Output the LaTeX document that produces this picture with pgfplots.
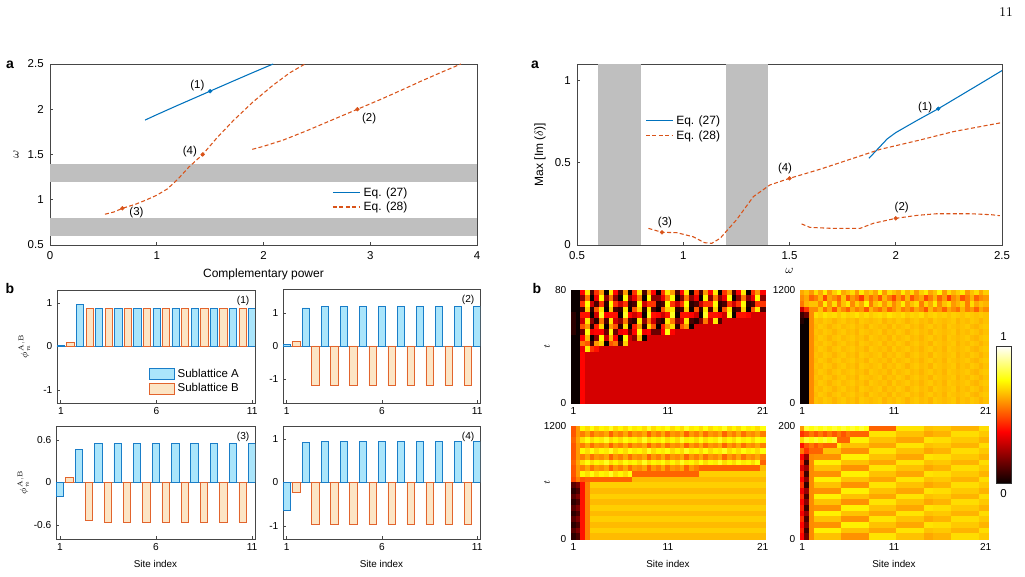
\documentclass[border=0pt]{standalone}
\usepackage{fontspec}
\setsansfont{Liberation Sans}
\renewcommand{\familydefault}{\sfdefault}
\usepackage{pgfplots}
\usepackage{pgfplotstable}
\pgfplotsset{compat=1.18}

\definecolor{mblue}{RGB}{0,114,189}
\definecolor{morange}{RGB}{217,83,25}
\definecolor{band}{RGB}{191,191,191}
\definecolor{fillA}{RGB}{170,229,251}
\definecolor{edgeA}{RGB}{25,125,200}
\definecolor{fillB}{RGB}{252,229,197}
\definecolor{edgeB}{RGB}{226,100,45}
\definecolor{axgray}{RGB}{70,70,70}

\newcommand\fa{\fontsize{8.6}{10}\selectfont}
\newcommand\fb{\fontsize{9}{11}\selectfont}
\newcommand\fc{\fontsize{7.6}{9}\selectfont}
\newcommand\fd{\fontsize{7.4}{9}\selectfont}

\pgfplotsset{
  colormap={mhot}{rgb255(0cm)=(10,0,0); rgb255(3cm)=(255,0,0); rgb255(6cm)=(255,255,0); rgb255(8cm)=(255,255,255)},
  base/.style={scale only axis, anchor=south west,
    axis line style={axgray, line width=0.5pt},
    tick style={axgray, line width=0.5pt},
    major tick length=2.5pt, tick align=inside, tick pos=left,
    /pgf/number format/assume math mode=true,
    /pgf/number format/1000 sep={}},
  toppanel/.style={base, height=135.75pt,
    ticklabel style={font=\fa}, label style={font=\fb},
    xticklabel style={yshift=-1.2pt}, yticklabel style={xshift=-1.2pt}},
  bars/.style={base, width=148.5pt, height=84.75pt, xmin=0.8, xmax=11.15, xtick={1,6,11},
    ticklabel style={font=\fc}, label style={font=\fd},
    ylabel style={at={(axis description cs:-0.165,0.5)}, anchor=center}},
  heat/.style={base, height=84.75pt, xmin=0.75, xmax=21.25, xtick={1,11,21},
    enlargelimits=false, point meta min=0, point meta max=100, colormap name=mhot,
    axis on top, axis line style={gray!70}, tick style={gray!70},
    ticklabel style={font=\fc}, label style={font=\fd},
    ylabel style={at={(axis description cs:-0.124,0.5)}, anchor=center}},
  hmcell/.style={scatter, only marks, mark=square*, point meta=explicit,
    scatter/use mapped color={draw=mapped color, fill=mapped color},
    mark size=2.12pt, mark options={xscale=#1, line width=0.25pt}},
  dot/.style={scatter=false, only marks, mark=*, mark size=1.4pt, draw=#1, fill=#1,
    mark options={draw=#1, fill=#1, solid}, forget plot},
  barA/.style={ybar, bar width=0.38, bar shift=0pt, fill=fillA, draw=edgeA, line width=0.5pt},
  barB/.style={ybar, bar width=0.38, bar shift=0pt, fill=fillB, draw=edgeB, line width=0.5pt},
  solidblue/.style={draw=mblue, line width=0.8pt},
  dsh/.style={draw=morange, line width=0.8pt, dash pattern=on 3pt off 1.8pt},
  keyline/.style={forget plot, no marks},
}

% intensity maps: t, then sites 1, 1.5, ..., 21
\pgfplotstableread{
t c1 c2 c3 c4 c5 c6 c7 c8 c9 c10 c11 c12 c13 c14 c15 c16 c17 c18 c19 c20 c21 c22 c23 c24 c25 c26 c27 c28 c29 c30 c31 c32 c33 c34 c35 c36 c37 c38 c39 c40 c41
78 0 0 38 72 10 45 60 0 72 38 10 60 0 45 72 10 60 38 0 45 72 60 10 38 72 0 45 10 60 38 72 0 45 60 10 38 72 0 45 60 38
74 0 0 20 55 0 35 75 20 55 20 0 75 20 35 55 0 75 20 20 35 55 75 0 20 55 20 35 0 75 20 55 20 35 75 0 20 55 20 35 75 20
70 0 0 45 75 30 10 45 5 75 45 30 45 5 10 75 30 45 45 5 10 75 45 30 45 75 5 10 30 45 45 75 5 10 45 30 45 75 5 10 45 45
66 0 0 10 68 5 50 72 0 68 10 5 72 0 50 68 5 72 10 0 50 68 72 5 10 68 0 50 5 72 10 68 0 50 72 5 10 68 0 50 72 10
62 5 0 40 40 0 30 78 38 40 40 0 78 38 30 40 0 78 40 38 30 40 78 0 40 40 38 30 0 78 40 40 38 30 78 0 40 40 38 31 31 31
58 5 0 30 72 20 5 55 10 72 30 20 55 10 5 72 20 55 30 10 5 72 55 20 30 72 10 5 20 55 30 72 10 31 31 31 31 31 31 31 31 31
54 5 0 50 60 5 42 70 0 60 50 5 70 0 42 60 5 70 50 0 42 60 70 5 50 60 0 31 31 31 31 31 31 31 31 31 31 31 31 31 31 31
50 5 0 15 76 35 38 38 15 76 15 35 38 15 38 76 35 38 15 15 38 76 38 31 31 31 31 31 31 31 31 31 31 31 31 31 31 31 31 31 31 31
46 0 0 38 65 0 20 75 30 65 38 0 75 30 20 65 0 31 31 31 31 31 31 31 31 31 31 31 31 31 31 31 31 31 31 31 31 31 31 31 31 31
42 0 0 55 50 10 60 68 0 50 55 10 68 31 31 31 31 31 31 31 31 31 31 31 31 31 31 31 31 31 31 31 31 31 31 31 31 31 31 31 31 31
38 0 0 35 72 45 40 31 31 31 31 31 31 31 31 31 31 31 31 31 31 31 31 31 31 31 31 31 31 31 31 31 31 31 31 31 31 31 31 31 31 31
34 0 0 38 31 31 31 31 31 31 31 31 31 31 31 31 31 31 31 31 31 31 31 31 31 31 31 31 31 31 31 31 31 31 31 31 31 31 31 31 31 31
30 0 0 38 31 31 31 31 31 31 31 31 31 31 31 31 31 31 31 31 31 31 31 31 31 31 31 31 31 31 31 31 31 31 31 31 31 31 31 31 31 31
26 0 0 38 31 31 31 31 31 31 31 31 31 31 31 31 31 31 31 31 31 31 31 31 31 31 31 31 31 31 31 31 31 31 31 31 31 31 31 31 31 31
22 0 0 38 31 31 31 31 31 31 31 31 31 31 31 31 31 31 31 31 31 31 31 31 31 31 31 31 31 31 31 31 31 31 31 31 31 31 31 31 31 31
18 0 0 38 31 31 31 31 31 31 31 31 31 31 31 31 31 31 31 31 31 31 31 31 31 31 31 31 31 31 31 31 31 31 31 31 31 31 31 31 31 31
14 0 0 38 31 31 31 31 31 31 31 31 31 31 31 31 31 31 31 31 31 31 31 31 31 31 31 31 31 31 31 31 31 31 31 31 31 31 31 31 31 31
10 0 0 38 31 31 31 31 31 31 31 31 31 31 31 31 31 31 31 31 31 31 31 31 31 31 31 31 31 31 31 31 31 31 31 31 31 31 31 31 31 31
6 0 0 38 31 31 31 31 31 31 31 31 31 31 31 31 31 31 31 31 31 31 31 31 31 31 31 31 31 31 31 31 31 31 31 31 31 31 31 31 31 31
2 0 0 38 31 31 31 31 31 31 31 31 31 31 31 31 31 31 31 31 31 31 31 31 31 31 31 31 31 31 31 31 31 31 31 31 31 31 31 31 31 31
}\Hone

\pgfplotstableread{
t c1 c2 c3 c4 c5 c6 c7 c8 c9 c10 c11 c12 c13 c14 c15 c16 c17 c18 c19 c20 c21 c22 c23 c24 c25 c26 c27 c28 c29 c30 c31 c32 c33 c34 c35 c36 c37 c38 c39 c40 c41
1170 62 66 60 70 62 72 60 68 74 62 66 70 60 72 64 68 62 74 60 70 66 62 72 64 70 60 68 72 62 66 74 60 70 64 68 72 60 66 70 62 68
1110 58 62 52 56 64 48 62 58 52 66 50 60 55 46 62 54 60 50 64 56 48 60 52 64 50 58 62 48 56 64 52 60 46 58 62 50 56 64 52 58 60
1050 55 64 66 66 58 72 60 70 56 66 72 58 68 62 74 56 66 70 60 68 58 64 72 60 66 70 56 68 62 72 58 66 70 60 64 68 56 70 62 66 64
990 30 45 58 58 66 54 62 50 64 58 52 62 56 60 50 64 58 54 62 52 58 64 56 60 54 62 58 50 64 56 60 52 62 58 54 64 56 60 52 62 58
930 8 15 58 70 68 71 69 70 67 70 68 69 71 68 70 67 69 70 68 71 69 68 70 67 69 68 70 66 68 69 67 68 66 68 67 66 68 67 66 67 66
870 4 0 58 66 65 67 66 64 66 67 65 66 64 67 66 65 66 67 64 66 65 67 66 64 66 67 65 66 64 67 66 65 66 67 64 66 65 67 66 64 66
810 0 0 58 65 67 66 64 66 67 65 66 67 65 66 64 67 66 65 66 64 67 65 66 67 65 66 64 66 67 65 66 64 67 66 65 66 67 65 64 66 67
750 0 0 58 66 65 67 66 64 66 67 65 66 64 67 66 65 66 67 64 66 65 67 66 64 66 67 65 66 64 67 66 65 66 67 64 66 65 67 66 64 66
690 0 0 58 65 67 66 64 66 67 65 66 67 65 66 64 67 66 65 66 64 67 65 66 67 65 66 64 66 67 65 66 64 67 66 65 66 67 65 64 66 67
630 0 0 58 66 65 67 66 64 66 67 65 66 64 67 66 65 66 67 64 66 65 67 66 64 66 67 65 66 64 67 66 65 66 67 64 66 65 67 66 64 66
570 0 0 58 65 67 66 64 66 67 65 66 67 65 66 64 67 66 65 66 64 67 65 66 67 65 66 64 66 67 65 66 64 67 66 65 66 67 65 64 66 67
510 0 0 58 66 65 67 66 64 66 67 65 66 64 67 66 65 66 67 64 66 65 67 66 64 66 67 65 66 64 67 66 65 66 67 64 66 65 67 66 64 66
450 0 0 58 65 67 66 64 66 67 65 66 67 65 66 64 67 66 65 66 64 67 65 66 67 65 66 64 66 67 65 66 64 67 66 65 66 67 65 64 66 67
390 0 0 58 66 65 67 66 64 66 67 65 66 64 67 66 65 66 67 64 66 65 67 66 64 66 67 65 66 64 67 66 65 66 67 64 66 65 67 66 64 66
330 0 0 58 65 67 66 64 66 67 65 66 67 65 66 64 67 66 65 66 64 67 65 66 67 65 66 64 66 67 65 66 64 67 66 65 66 67 65 64 66 67
270 0 0 58 66 65 67 66 64 66 67 65 66 64 67 66 65 66 67 64 66 65 67 66 64 66 67 65 66 64 67 66 65 66 67 64 66 65 67 66 64 66
210 0 0 58 65 67 66 64 66 67 65 66 67 65 66 64 67 66 65 66 64 67 65 66 67 65 66 64 66 67 65 66 64 67 66 65 66 67 65 64 66 67
150 0 0 58 66 65 67 66 64 66 67 65 66 64 67 66 65 66 67 64 66 65 67 66 64 66 67 65 66 64 67 66 65 66 67 64 66 65 67 66 64 66
90 0 0 58 65 67 66 64 66 67 65 66 67 65 66 64 67 66 65 66 64 67 65 66 67 65 66 64 66 67 65 66 64 67 66 65 66 67 65 64 66 67
30 0 0 58 66 65 67 66 64 66 67 65 66 64 67 66 65 66 67 64 66 65 67 66 64 66 67 65 66 64 67 66 65 66 67 64 66 65 67 66 64 66
}\Htwo

\pgfplotstableread{
t c1 c2 c3 c4 c5 c6 c7 c8 c9 c10 c11 c12 c13 c14 c15 c16 c17 c18 c19 c20 c21 c22 c23 c24 c25 c26 c27 c28 c29 c30 c31 c32 c33 c34 c35 c36 c37 c38 c39 c40 c41
1170 50 60 74 70 76 70 74 72 78 70 74 70 76 72 74 70 78 70 74 72 76 70 74 70 78 72 74 70 76 70 74 72 78 70 74 70 76 72 74 70 76
1110 50 60 56 62 54 60 58 62 52 60 56 62 54 60 58 62 52 60 56 62 54 60 58 62 52 60 56 62 54 60 58 62 52 60 56 62 54 60 58 62 56
1050 52 62 70 76 70 74 72 78 70 74 70 76 72 74 70 78 70 74 72 76 70 74 70 78 72 74 70 76 70 74 72 78 70 74 70 76 72 74 70 76 74
990 50 60 56 62 54 60 58 62 52 60 56 62 54 60 58 62 52 60 56 62 54 60 58 62 52 60 56 62 54 60 58 62 52 60 56 62 54 60 58 62 56
930 50 60 74 70 76 70 74 72 78 70 74 70 76 72 74 70 78 70 74 72 76 70 74 70 78 72 74 70 76 70 74 72 78 70 74 70 76 72 74 70 76
870 50 60 56 62 54 60 58 62 52 60 56 62 54 60 58 62 52 60 56 62 54 60 58 62 52 60 56 62 54 60 58 62 52 60 56 62 54 60 58 62 56
810 52 62 70 76 70 74 72 78 70 74 70 76 72 74 70 78 70 74 72 76 70 74 70 78 72 74 70 76 70 74 72 78 70 74 70 76 72 74 70 76 52
750 50 60 56 62 54 60 58 62 52 60 56 62 54 60 58 62 52 60 56 62 54 60 58 62 52 60 56 52 52 52 52 52 52 52 52 52 52 52 52 52 65
690 50 60 74 70 76 70 74 72 78 70 74 70 76 52 52 52 52 52 52 52 52 52 52 52 52 52 52 68 68 68 68 68 68 68 68 68 68 68 68 68 68
630 48 56 50 52 52 52 52 52 52 52 52 52 52 65 65 65 65 65 65 65 65 65 65 65 65 65 65 65 65 65 65 65 65 65 65 65 65 65 65 65 65
570 12 18 40 56 68 68 68 68 68 68 68 68 68 68 68 68 68 68 68 68 68 68 68 68 68 68 68 68 68 68 68 68 68 68 68 68 68 68 68 68 68
510 5 10 40 56 65 65 65 65 65 65 65 65 65 65 65 65 65 65 65 65 65 65 65 65 65 65 65 65 65 65 65 65 65 65 65 65 65 65 65 65 65
450 12 18 40 56 68 68 68 68 68 68 68 68 68 68 68 68 68 68 68 68 68 68 68 68 68 68 68 68 68 68 68 68 68 68 68 68 68 68 68 68 68
390 5 10 40 56 65 65 65 65 65 65 65 65 65 65 65 65 65 65 65 65 65 65 65 65 65 65 65 65 65 65 65 65 65 65 65 65 65 65 65 65 65
330 12 18 40 56 68 68 68 68 68 68 68 68 68 68 68 68 68 68 68 68 68 68 68 68 68 68 68 68 68 68 68 68 68 68 68 68 68 68 68 68 68
270 5 10 40 56 65 65 65 65 65 65 65 65 65 65 65 65 65 65 65 65 65 65 65 65 65 65 65 65 65 65 65 65 65 65 65 65 65 65 65 65 65
210 12 18 40 56 68 68 68 68 68 68 68 68 68 68 68 68 68 68 68 68 68 68 68 68 68 68 68 68 68 68 68 68 68 68 68 68 68 68 68 68 68
150 5 10 40 56 65 65 65 65 65 65 65 65 65 65 65 65 65 65 65 65 65 65 65 65 65 65 65 65 65 65 65 65 65 65 65 65 65 65 65 65 65
90 12 18 40 56 68 68 68 68 68 68 68 68 68 68 68 68 68 68 68 68 68 68 68 68 68 68 68 68 68 68 68 68 68 68 68 68 68 68 68 68 68
30 5 10 40 56 65 65 65 65 65 65 65 65 65 65 65 65 65 65 65 65 65 65 65 65 65 65 65 65 65 65 65 65 65 65 65 65 65 65 65 65 65
}\Hthree

\pgfplotstableread{
t c1 c2 c3 c4 c5 c6 c7 c8 c9 c10 c11 c12 c13 c14 c15 c16 c17 c18 c19 c20 c21 c22 c23 c24 c25 c26 c27 c28 c29 c30 c31 c32 c33 c34 c35 c36 c37 c38 c39 c40 c41
195 60 80 76 80 76 80 76 80 76 80 76 80 76 80 76 52 52 52 52 52 52 71 71 71 71 71 71 66 66 67 67 67 67 64 64 64 64 64 64 70 70
185 45 50 55 50 55 50 55 50 55 50 55 52 52 52 52 71 71 71 71 71 71 66 66 66 66 66 66 62 62 64 64 64 64 70 70 70 70 70 70 67 67
175 70 80 76 80 76 80 76 80 52 52 52 73 73 73 73 66 66 66 66 66 66 62 62 62 62 62 62 71 71 70 70 70 70 67 67 67 67 67 67 64 64
165 40 50 55 50 55 52 52 52 73 66 66 66 66 66 66 62 62 62 62 62 62 71 71 71 71 71 71 66 66 67 67 67 67 64 64 64 64 64 64 70 70
155 55 45 52 52 52 66 66 66 66 59 59 59 59 59 59 71 71 71 71 71 71 66 66 66 66 66 66 62 62 64 64 64 64 70 70 70 70 70 70 67 67
145 38 22 58 59 59 59 59 59 59 73 73 73 73 73 73 66 66 66 66 66 66 62 62 62 62 62 62 71 71 70 70 70 70 67 67 67 67 67 67 64 64
135 44 8 58 73 73 73 73 73 73 66 66 66 66 66 66 62 62 62 62 62 62 71 71 71 71 71 71 66 66 67 67 67 67 64 64 64 64 64 64 70 70
125 32 22 58 66 66 66 66 66 66 59 59 59 59 59 59 71 71 71 71 71 71 66 66 66 66 66 66 62 62 64 64 64 64 70 70 70 70 70 70 67 67
115 44 8 58 59 59 59 59 59 59 73 73 73 73 73 73 66 66 66 66 66 66 62 62 62 62 62 62 71 71 70 70 70 70 67 67 67 67 67 67 64 64
105 38 20 58 73 73 73 73 73 73 66 66 66 66 66 66 62 62 62 62 62 62 71 71 71 71 71 71 66 66 67 67 67 67 64 64 64 64 64 64 70 70
95 45 6 58 66 66 66 66 66 66 59 59 59 59 59 59 71 71 71 71 71 71 66 66 66 66 66 66 62 62 64 64 64 64 70 70 70 70 70 70 67 67
85 36 22 58 59 59 59 59 59 59 73 73 73 73 73 73 66 66 66 66 66 66 62 62 62 62 62 62 71 71 70 70 70 70 67 67 67 67 67 67 64 64
75 44 10 58 73 73 73 73 73 73 66 66 66 66 66 66 62 62 62 62 62 62 71 71 71 71 71 71 66 66 67 67 67 67 64 64 64 64 64 64 70 70
65 38 20 58 66 66 66 66 66 66 59 59 59 59 59 59 71 71 71 71 71 71 66 66 66 66 66 66 62 62 64 64 64 64 70 70 70 70 70 70 67 67
55 42 8 58 59 59 59 59 59 59 73 73 73 73 73 73 66 66 66 66 66 66 62 62 62 62 62 62 71 71 70 70 70 70 67 67 67 67 67 67 64 64
45 36 22 58 73 73 73 73 73 73 66 66 66 66 66 66 62 62 62 62 62 62 71 71 71 71 71 71 66 66 67 67 67 67 64 64 64 64 64 64 70 70
35 44 10 58 66 66 66 66 66 66 59 59 59 59 59 59 71 71 71 71 71 71 66 66 66 66 66 66 62 62 64 64 64 64 70 70 70 70 70 70 67 67
25 38 18 58 59 59 59 59 59 59 73 73 73 73 73 73 66 66 66 66 66 66 62 62 62 62 62 62 71 71 70 70 70 70 67 67 67 67 67 67 64 64
15 42 8 58 73 73 73 73 73 73 66 66 66 66 66 66 62 62 62 62 62 62 71 71 71 71 71 71 66 66 67 67 67 67 64 64 64 64 64 64 70 70
5 38 15 58 66 66 66 66 66 66 59 59 59 59 59 59 71 71 71 71 71 71 66 66 66 66 66 66 62 62 64 64 64 64 70 70 70 70 70 70 67 67
}\Hfour

\begin{document}
\begin{tikzpicture}
\path[use as bounding box] (0,0) rectangle (768.75pt,432.75pt);

% page number and panel letters
\node[font=\rmfamily\fontsize{10}{12}\selectfont] at (754.5pt,423.75pt) {11};
\node[font=\bfseries\fontsize{10.5}{12}\selectfont] at (7.5pt,384pt) {a};
\node[font=\bfseries\fontsize{10.5}{12}\selectfont] at (401.25pt,384pt) {a};
\node[font=\bfseries\fontsize{10.5}{12}\selectfont] at (7.5pt,216pt) {b};
\node[font=\bfseries\fontsize{10.5}{12}\selectfont] at (402.75pt,216pt) {b};

% ---------- a (left): frequency vs complementary power ----------
\begin{axis}[toppanel, at={(37.5pt,249pt)}, width=320.25pt,
  xmin=0, xmax=4, ymin=0.5, ymax=2.5,
  xtick={0,1,2,3,4}, ytick={0.5,1,1.5,2,2.5},
  xlabel={Complementary power}, ylabel={$\omega$}]
\addplot[fill=band, draw=none, forget plot] coordinates {(0,0.6) (4,0.6) (4,0.8) (0,0.8)} -- cycle;
\addplot[fill=band, draw=none, forget plot] coordinates {(0,1.2) (4,1.2) (4,1.4) (0,1.4)} -- cycle;
\addplot[solidblue, forget plot] coordinates {
  (0.89,1.88) (1.0,1.94) (1.2,2.045) (1.4,2.148) (1.5,2.2) (1.7,2.303) (1.9,2.405) (2.09,2.5)};
\addplot[dsh, forget plot] coordinates {
  (0.515,0.84) (0.6,0.865) (0.678,0.905) (0.8,0.95) (0.906,1.0) (1.0,1.05) (1.1,1.12)
  (1.2,1.23) (1.3,1.36) (1.43,1.5) (1.561,1.68) (1.717,1.874) (1.905,2.084)
  (2.092,2.268) (2.248,2.404) (2.389,2.5)};
\addplot[dsh, forget plot] coordinates {
  (1.895,1.557) (2.0,1.59) (2.186,1.66) (2.4,1.76) (2.6,1.86) (2.88,2.0)
  (3.1,2.11) (3.3,2.215) (3.466,2.305) (3.65,2.4) (3.85,2.5)};
\addplot[dot=mblue] coordinates {(1.5,2.2)};
\addplot[dot=morange] coordinates {(2.88,2.0) (0.678,0.905) (1.43,1.5)};
% key
\addplot[solidblue, keyline] coordinates {(2.651,1.075) (2.904,1.075)};
\addplot[dsh, keyline] coordinates {(2.651,0.92) (2.904,0.92)};
\node[font=\fb, anchor=west, inner sep=0pt] at (axis cs:2.935,1.075) {Eq. (27)};
\node[font=\fb, anchor=west, inner sep=0pt] at (axis cs:2.935,0.92) {Eq. (28)};
\node[font=\fa] at (axis cs:1.38,2.26) {(1)};
\node[font=\fa] at (axis cs:2.99,1.90) {(2)};
\node[font=\fa] at (axis cs:0.81,0.857) {(3)};
\node[font=\fa] at (axis cs:1.31,1.53) {(4)};
\end{axis}

% ---------- a (right): maximal growth rate vs frequency ----------
\begin{axis}[toppanel, at={(432.75pt,249pt)}, width=318.75pt,
  xmin=0.5, xmax=2.5, ymin=0, ymax=1.1,
  xtick={0.5,1,1.5,2,2.5}, ytick={0,0.5,1},
  xlabel={$\omega$}, ylabel={Max [Im ($\delta$)]}]
\addplot[fill=band, draw=none, forget plot] coordinates {(0.6,0) (0.8,0) (0.8,1.1) (0.6,1.1)} -- cycle;
\addplot[fill=band, draw=none, forget plot] coordinates {(1.2,0) (1.4,0) (1.4,1.1) (1.2,1.1)} -- cycle;
\addplot[solidblue, forget plot] coordinates {
  (1.874,0.527) (1.92,0.59) (1.96,0.645) (2.0,0.683) (2.1,0.757) (2.2,0.828)
  (2.3,0.905) (2.4,0.982) (2.5,1.06)};
\addplot[dsh, forget plot] coordinates {
  (0.836,0.101) (0.9,0.077) (0.969,0.075) (1.047,0.05) (1.1,0.014) (1.134,0.01)
  (1.173,0.04) (1.25,0.152) (1.33,0.294) (1.408,0.365) (1.5,0.405) (1.643,0.46)
  (1.8,0.527) (1.926,0.581) (2.114,0.638) (2.271,0.689) (2.5,0.744)};
\addplot[dsh, forget plot] coordinates {
  (1.557,0.128) (1.596,0.107) (1.7,0.101) (1.832,0.101) (1.895,0.132) (2.0,0.162)
  (2.1,0.18) (2.193,0.19) (2.35,0.19) (2.45,0.184) (2.49,0.178)};
\addplot[dot=mblue] coordinates {(2.2,0.828)};
\addplot[dot=morange] coordinates {(2.0,0.162) (0.9,0.077) (1.5,0.405)};
% key
\addplot[solidblue, keyline] coordinates {(0.825,0.754) (0.952,0.754)};
\addplot[dsh, keyline] coordinates {(0.825,0.663) (0.952,0.663)};
\node[font=\fb, anchor=west, inner sep=0pt] at (axis cs:0.966,0.754) {Eq. (27)};
\node[font=\fb, anchor=west, inner sep=0pt] at (axis cs:0.966,0.663) {Eq. (28)};
\node[font=\fa] at (axis cs:2.138,0.837) {(1)};
\node[font=\fa] at (axis cs:2.028,0.227) {(2)};
\node[font=\fa] at (axis cs:0.914,0.138) {(3)};
\node[font=\fa] at (axis cs:1.479,0.462) {(4)};
\end{axis}

% ---------- b (left): stationary profiles ----------
\begin{axis}[bars, at={(42.75pt,130.5pt)}, ymin=-1.3, ymax=1.3, ytick={-1,0,1},
  ylabel={$\phi_n^{\mathrm{A,B}}$},
  legend style={at={(0.445,0.35)}, anchor=north west, draw=none, fill=none,
    font=\fa, row sep=-1pt},
  legend cell align=left,
  legend image code/.code={\draw[#1] (0pt,-4.1pt) rectangle (18.75pt,4.1pt);}]
\draw[axgray!70, line width=0.4pt] (axis cs:0.8,0) -- (axis cs:11.15,0);
\addplot[barA] coordinates {(1,0.02) (2,0.96) (3,0.88) (4,0.88) (5,0.88) (6,0.88) (7,0.88) (8,0.88) (9,0.88) (10,0.88) (11,0.88)};
\addlegendentry{Sublattice A}
\addplot[barB] coordinates {(1.5,0.09) (2.5,0.88) (3.5,0.88) (4.5,0.88) (5.5,0.88) (6.5,0.88) (7.5,0.88) (8.5,0.88) (9.5,0.88) (10.5,0.88)};
\addlegendentry{Sublattice B}
\node[font=\fc, anchor=north east] at (rel axis cs:0.995,0.985) {(1)};
\end{axis}

\begin{axis}[bars, at={(212.25pt,130.5pt)}, width=147.75pt, height=85.5pt,
  ymin=-1.72, ymax=1.72, ytick={-1,0,1}]
\draw[axgray!70, line width=0.4pt] (axis cs:0.8,0) -- (axis cs:11.15,0);
\addplot[barA] coordinates {(1,0.04) (2,1.15) (3,1.2) (4,1.2) (5,1.2) (6,1.2) (7,1.2) (8,1.2) (9,1.2) (10,1.2) (11,1.2)};
\addplot[barB] coordinates {(1.5,0.13) (2.5,-1.2) (3.5,-1.2) (4.5,-1.2) (5.5,-1.2) (6.5,-1.2) (7.5,-1.2) (8.5,-1.2) (9.5,-1.2) (10.5,-1.2)};
\node[font=\fc, anchor=north east] at (rel axis cs:0.995,0.985) {(2)};
\end{axis}

\begin{axis}[bars, at={(42pt,28.5pt)}, width=149.25pt,
  ymin=-0.8, ymax=0.8, ytick={-0.6,0,0.6},
  ylabel={$\phi_n^{\mathrm{A,B}}$}, xlabel={Site index}]
\draw[axgray!70, line width=0.4pt] (axis cs:0.8,0) -- (axis cs:11.15,0);
\addplot[barA] coordinates {(1,-0.2) (2,0.47) (3,0.55) (4,0.55) (5,0.55) (6,0.55) (7,0.55) (8,0.55) (9,0.55) (10,0.55) (11,0.55)};
\addplot[barB] coordinates {(1.5,0.07) (2.5,-0.53) (3.5,-0.56) (4.5,-0.56) (5.5,-0.56) (6.5,-0.56) (7.5,-0.56) (8.5,-0.56) (9.5,-0.56) (10.5,-0.56)};
\node[font=\fc, anchor=north east] at (rel axis cs:0.995,0.985) {(3)};
\end{axis}

\begin{axis}[bars, at={(212.25pt,28.5pt)}, width=147.75pt,
  ymin=-1.3, ymax=1.3, ytick={-1,0,1}, xlabel={Site index}]
\draw[axgray!70, line width=0.4pt] (axis cs:0.8,0) -- (axis cs:11.15,0);
\addplot[barA] coordinates {(1,-0.64) (2,0.92) (3,0.94) (4,0.94) (5,0.94) (6,0.94) (7,0.94) (8,0.94) (9,0.94) (10,0.94) (11,0.94)};
\addplot[barB] coordinates {(1.5,-0.23) (2.5,-0.97) (3.5,-0.97) (4.5,-0.97) (5.5,-0.97) (6.5,-0.97) (7.5,-0.97) (8.5,-0.97) (9.5,-0.97) (10.5,-0.97)};
\node[font=\fc, anchor=north east] at (rel axis cs:0.995,0.985) {(4)};
\end{axis}

% ---------- b (right): intensity evolution ----------
\begin{axis}[heat, at={(428.25pt,130.5pt)}, width=145.5pt,
  ymin=0, ymax=80, ytick={0,80}, ylabel={$t$}]
\pgfplotsinvokeforeach{1,...,41}{
  \addplot[hmcell=0.8375] table[x expr={(#1+1)/2}, y=t, meta=c#1] {\Hone};
}
\node[font=\fc, text=white!85!gray, anchor=south east] at (rel axis cs:0.985,0.02) {(1)};
\end{axis}

\begin{axis}[heat, at={(600pt,130.5pt)}, width=141pt,
  ymin=0, ymax=1200, ytick={0,1200},
  colorbar,
  colorbar style={at={(parent axis.north east)}, anchor=north west,
    xshift=-2.25pt, yshift=-42pt, scale only axis, width=11.25pt, height=102.75pt,
    ytick=\empty, axis line style={black!80, line width=0.5pt}}]
\pgfplotsinvokeforeach{1,...,41}{
  \addplot[hmcell=0.8116] table[x expr={(#1+1)/2}, y=t, meta=c#1] {\Htwo};
}
\node[font=\fc, text=black!85, anchor=south east] at (rel axis cs:0.985,0.02) {(2)};
\end{axis}

\begin{axis}[heat, at={(428.25pt,28.5pt)}, width=145.5pt,
  ymin=0, ymax=1200, ytick={0,1200}, ylabel={$t$}, xlabel={Site index}]
\pgfplotsinvokeforeach{1,...,41}{
  \addplot[hmcell=0.8375] table[x expr={(#1+1)/2}, y=t, meta=c#1] {\Hthree};
}
\node[font=\fc, text=black!85, anchor=south east] at (rel axis cs:0.985,0.02) {(3)};
\end{axis}

\begin{axis}[heat, at={(600pt,28.5pt)}, width=141pt,
  ymin=0, ymax=200, ytick={0,200}, xlabel={Site index}]
\pgfplotsinvokeforeach{1,...,41}{
  \addplot[hmcell=0.8116] table[x expr={(#1+1)/2}, y=t, meta=c#1] {\Hfour};
}
\node[font=\fc, text=black!85, anchor=south east] at (rel axis cs:0.985,0.02) {(4)};
\end{axis}

% colour scale limits
\node[font=\fa] at (752.6pt,180pt) {1};
\node[font=\fa] at (752.6pt,62.25pt) {0};
\end{tikzpicture}
\end{document}
